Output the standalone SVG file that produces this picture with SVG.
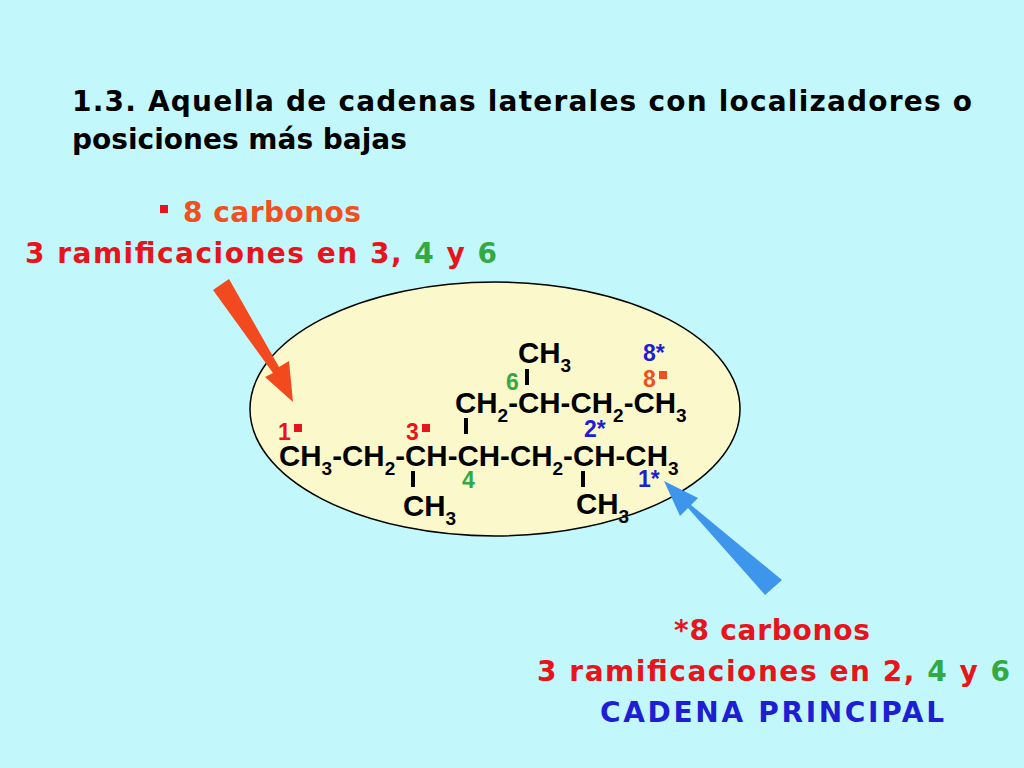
<svg xmlns="http://www.w3.org/2000/svg" width="1024" height="768" viewBox="0 0 1024 768">
<style>
.t{font-family:"DejaVu Sans","Liberation Sans",sans-serif;font-weight:bold}
.m{font-family:"Liberation Sans",Arial,sans-serif;font-weight:bold;font-size:29.5px;fill:#000}
.s{font-size:19px}
.r{fill:#E8141B}.o{fill:#F0501E}.g{fill:#33A944}.b{fill:#1E1ED2}
.lb{font-family:"Liberation Sans",Arial,sans-serif;font-weight:bold;font-size:23px}
</style>
<rect width="1024" height="768" fill="#C2F8FC"/>
<text class="t" x="72" y="111" font-size="28" fill="#000" textLength="900">1.3.  Aquella de cadenas laterales con localizadores o</text>
<text class="t" x="72" y="149" font-size="28" fill="#000">posiciones más bajas</text>
<g id="top-label" class="t" font-size="28">
<rect x="160" y="205" width="8" height="8" class="r"/>
<text x="183" y="222" class="o" textLength="178">8 carbonos</text>
<text x="25" y="263" class="r" textLength="472">3 ramificaciones en 3, <tspan class="g">4</tspan> y <tspan class="g">6</tspan></text>
</g>
<g id="molecule">
<ellipse cx="495" cy="409" rx="245" ry="127" fill="#FBF9CC" stroke="#000" stroke-width="1.5"/>
<text class="m" x="518" y="363">CH<tspan class="s" dy="9">3</tspan></text>
<text class="m" x="455" y="413">CH<tspan class="s" dy="9">2</tspan><tspan dy="-9">-CH-CH</tspan><tspan class="s" dy="9">2</tspan><tspan dy="-9">-CH</tspan><tspan class="s" dy="9">3</tspan></text>
<text class="m" x="279" y="466">CH<tspan class="s" dy="9">3</tspan><tspan dy="-9">-CH</tspan><tspan class="s" dy="9">2</tspan><tspan dy="-9">-CH-CH-CH</tspan><tspan class="s" dy="9">2</tspan><tspan dy="-9">-CH-CH</tspan><tspan class="s" dy="9">3</tspan></text>
<text class="m" x="403" y="516">CH<tspan class="s" dy="9">3</tspan></text>
<text class="m" x="576" y="514">CH<tspan class="s" dy="9">3</tspan></text>
<g fill="#000">
<rect x="525" y="369" width="4" height="16"/>
<rect x="464" y="418" width="4" height="16"/>
<rect x="411" y="471" width="4" height="16"/>
<rect x="581" y="471" width="4" height="16"/>
</g>
<text class="lb r" x="278" y="440">1</text><rect x="294" y="424" width="8" height="8" class="r"/>
<text class="lb r" x="406" y="440">3</text><rect x="422" y="424" width="8" height="8" class="r"/>
<text class="lb g" x="506" y="390">6</text>
<text class="lb b" x="643" y="361">8*</text>
<text class="lb o" x="643" y="387">8</text><rect x="659" y="371" width="8" height="8" class="o"/>
<text class="lb b" x="584" y="437">2*</text>
<text class="lb g" x="462" y="488">4</text>
<text class="lb b" x="638" y="487">1*</text>
</g>
<g id="connectors">
<polygon points="213,290 229,279 279,367 289,361 293,402 265,377 273,373" fill="#F24A1E"/>
<polygon points="782,580 765,595 688,508 680,516 664,481 698,498 691,505" fill="#3E95EC"/>
</g>
<g id="bottom-label" class="t" font-size="28">
<text x="674" y="640" class="r" textLength="196">*8 carbonos</text>
<text x="537" y="681" class="r" textLength="473">3 ramificaciones en 2, <tspan class="g">4</tspan> y <tspan class="g">6</tspan></text>
<text x="600" y="722" class="b" textLength="344">CADENA PRINCIPAL</text>
</g>
</svg>
